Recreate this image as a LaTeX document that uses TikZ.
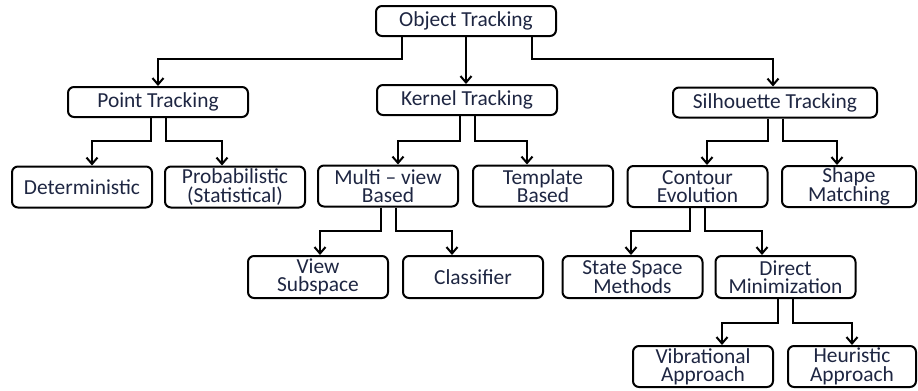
\documentclass[tikz,border=0pt]{standalone}
\usepackage{fontspec}
\setmainfont{Carlito}
\usepackage{tikz}
\usetikzlibrary{arrows.meta}
\definecolor{boxtext}{RGB}{30,38,66}
\tikzset{
  box/.style={draw, rounded corners=3pt, line width=1pt, inner sep=0pt,
    minimum width=70pt, minimum height=20.5pt, align=center,
    text=boxtext, font=\fontsize{10.7}{9.2}\selectfont},
  headbox/.style={box, minimum width=90pt, minimum height=15pt},
  link/.style={line width=1pt, -{Straight Barb[length=3.2pt,width=5.5pt,line width=1pt]}}
}

\begin{document}
\begin{tikzpicture}[x=0.5pt, y=-0.5pt]
   \useasboundingbox (0,0) rectangle (918,391);

   % top level
   \node[headbox] (obj) at (466,21) {Object Tracking};
   \node[headbox] (pt) at (158,102) {Point Tracking};
   \node[headbox] (kt) at (467,100) {Kernel Tracking};
   \node[headbox, minimum width=102pt] (sil) at (775,102.5) {Silhouette Tracking};

   % second level
   \node[box] (det) at (82,187) {Deterministic};
   \node[box] (prob) at (235,187) {Probabilistic\\(Statistical)};
   \node[box] (mv) at (388,186) {Multi -- view\\Based};
   \node[box] (tmp) at (543,186) {Template\\Based};
   \node[box] (ce) at (697.5,186.5) {Contour\\Evolution};
   \node[box, minimum width=67pt] (sm) at (849,186.5) {Shape\\Matching};

   % third level
   \node[box, minimum height=21pt] (vs) at (318,277) {View\\Subspace};
   \node[box, minimum height=21pt] (cl) at (473,277) {Classifier};
   \node[box, minimum height=21pt] (ss) at (632.5,277) {State Space\\Methods};
   \node[box, minimum height=21pt] (dm) at (785.5,277) {Direct\\Minimization};

   % fourth level
   \node[box] (vib) at (703,366.5) {Vibrational\\Approach};
   \node[box, minimum width=64pt] (heu) at (852,366.5) {Heuristic\\Approach};

   % connectors
   \draw[link] ([xshift=-32pt]obj.south) -- ++(0,22) -| (pt.north);
   \draw[link] (obj.south) -- (obj.south |- kt.north);
   \draw[link] ([xshift=33pt]obj.south) -- ++(0,22) -| ([xshift=-1pt]sil.north);

   \draw[link] ([xshift=-3.75pt]pt.south) -- ++(0,23) -| ([xshift=5pt]det.north);
   \draw[link] ([xshift=3.75pt]pt.south) -- ++(0,23) -| ([xshift=-6.5pt]prob.north);

   \draw[link] ([xshift=-3.75pt]kt.south) -- ++(0,25) -| ([xshift=5pt]mv.north);
   \draw[link] ([xshift=3.75pt]kt.south) -- ++(0,25) -| ([xshift=-8pt]tmp.north);

   \draw[link] ([xshift=-3.75pt]sil.south) -- ++(0,22) -| ([xshift=4.75pt]ce.north);
   \draw[link] ([xshift=3.75pt]sil.south) -- ++(0,22) -| ([xshift=-6pt]sm.north);

   \draw[link] ([xshift=-3.75pt]mv.south) -- ++(0,23) -| ([xshift=1pt]vs.north);
   \draw[link] ([xshift=3.75pt]mv.south) -- ++(0,23) -| ([xshift=-10.5pt]cl.north);

   \draw[link] ([xshift=-3.75pt]ce.south) -- ++(0,23) -| ([xshift=-0.75pt]ss.north);
   \draw[link] ([xshift=3.75pt]ce.south) -- ++(0,23) -| ([xshift=-11.75pt]dm.north);

   \draw[link] ([xshift=-3.75pt]dm.south) -- ++(0,24) -| ([xshift=9.5pt]vib.north);
   \draw[link] ([xshift=3.75pt]dm.south) -- ++(0,24) -| (heu.north);
\end{tikzpicture}
\end{document}
